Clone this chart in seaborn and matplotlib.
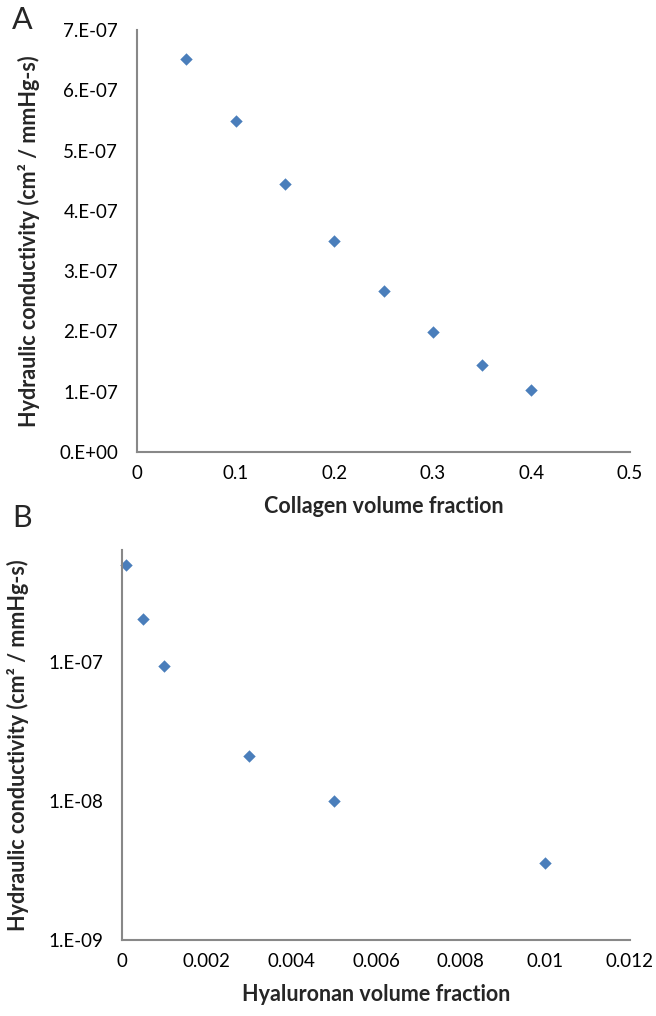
from matplotlib import pyplot as plt
import pandas as pd
import seaborn as sns

# panel A - collagen
collagen_frac = [0.05, 0.10, 0.15, 0.20, 0.25, 0.30, 0.35, 0.40]
collagen_k = [6.52e-7, 5.49e-7, 4.45e-7, 3.50e-7, 2.67e-7, 1.99e-7, 1.45e-7, 1.03e-7]
a_xticks = [0, 0.1, 0.2, 0.3, 0.4, 0.5]
a_xticklabels = ["0", "0.1", "0.2", "0.3", "0.4", "0.5"]
a_yticks = [0, 1e-7, 2e-7, 3e-7, 4e-7, 5e-7, 6e-7, 7e-7]
a_yticklabels = ["0.E+00", "1.E-07", "2.E-07", "3.E-07", "4.E-07", "5.E-07", "6.E-07", "7.E-07"]

# panel B - hyaluronan
hyal_frac = [0.0001, 0.0005, 0.001, 0.003, 0.005, 0.01]
hyal_k = [5.0e-7, 2.05e-7, 0.93e-7, 2.1e-8, 1.0e-8, 3.6e-9]
b_xticks = [0, 0.002, 0.004, 0.006, 0.008, 0.01, 0.012]
b_xticklabels = ["0", "0.002", "0.004", "0.006", "0.008", "0.01", "0.012"]
b_yticks = [1e-9, 1e-8, 1e-7]
b_yticklabels = ["1.E-09", "1.E-08", "1.E-07"]

sns.set_style("white")
plt.rcParams['font.family'] = ['Lato', 'DejaVu Sans']

MARKER_COLOR = "#4a7ebb"
AXIS_COLOR = "#888888"
ylabel = "Hydraulic conductivity (cm² / mmHg-s)"

fig = plt.figure(figsize=(6.56, 10.16), dpi=100)
ax_a = fig.add_axes([137 / 656, 1 - 452 / 1016, (630 - 137) / 656, (452 - 30) / 1016])
ax_b = fig.add_axes([122 / 656, 1 - 940 / 1016, (630 - 122) / 656, (940 - 550) / 1016])


def style_axis(ax):
    sns.despine(ax=ax)
    for side in ["left", "bottom"]:
        ax.spines[side].set_color(AXIS_COLOR)
        ax.spines[side].set_linewidth(1.5)
    ax.tick_params(axis="both", which="major", direction="inout", length=9, width=1.2,
                   color=AXIS_COLOR, labelsize=13.5, labelcolor="black", pad=5)
    ax.tick_params(axis="y", which="major", pad=9)
    ax.tick_params(axis="both", which="minor", length=0)
    ax.grid(False)


# panel A
df_a = pd.DataFrame({"x": collagen_frac, "y": collagen_k})
sns.scatterplot(ax=ax_a, data=df_a, x="x", y="y", marker="D", s=40, color=MARKER_COLOR,
                edgecolor=MARKER_COLOR, linewidth=0, clip_on=False)
ax_a.set_xlim(0, 0.5)
ax_a.set_ylim(0, 7e-7)
ax_a.set_xticks(a_xticks)
ax_a.set_xticklabels(a_xticklabels)
ax_a.set_yticks(a_yticks)
ax_a.set_yticklabels(a_yticklabels)
ax_a.set_xlabel("Collagen volume fraction", fontsize=15.5, fontweight="bold", labelpad=10)
ax_a.set_ylabel(ylabel, fontsize=15.5, fontweight="bold", labelpad=14)
style_axis(ax_a)

# panel B
df_b = pd.DataFrame({"x": hyal_frac, "y": hyal_k})
sns.scatterplot(ax=ax_b, data=df_b, x="x", y="y", marker="D", s=40, color=MARKER_COLOR,
                edgecolor=MARKER_COLOR, linewidth=0, clip_on=False)
ax_b.set_yscale("log")
ax_b.set_xlim(0, 0.012)
ax_b.set_ylim(1e-9, 6.4e-7)
ax_b.set_xticks(b_xticks)
ax_b.set_xticklabels(b_xticklabels)
ax_b.set_yticks(b_yticks)
ax_b.set_yticklabels(b_yticklabels)
ax_b.set_xlabel("Hyaluronan volume fraction", fontsize=15.5, fontweight="bold", labelpad=10)
ax_b.set_ylabel(ylabel, fontsize=15.5, fontweight="bold", labelpad=14)
style_axis(ax_b)

# panel letters
fig.text(12 / 656, 1 - 20 / 1016, "A", fontsize=22, va="center", ha="left")
fig.text(12 / 656, 1 - 518 / 1016, "B", fontsize=22, va="center", ha="left")

plt.savefig("out.png", dpi=100)
